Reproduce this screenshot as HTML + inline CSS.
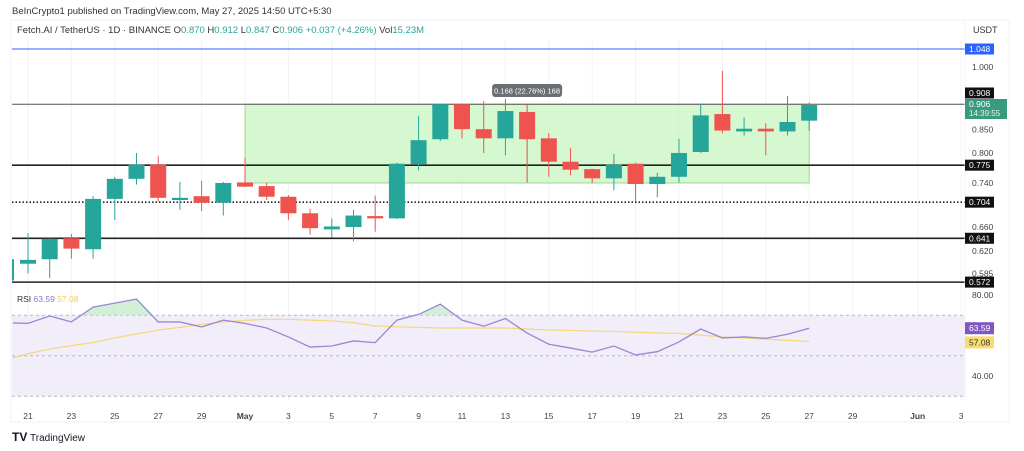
<!DOCTYPE html>
<html><head><meta charset="utf-8"><style>
body{margin:0;background:#fff;font-family:"Liberation Sans",sans-serif;}
svg text{font-family:"Liberation Sans",sans-serif;}
</style></head><body>
<svg id="chart" width="1024" height="446" viewBox="0 0 1024 446" xmlns="http://www.w3.org/2000/svg">
<rect width="1024" height="446" fill="#fff"/>
<text x="12" y="14" font-size="9.5" fill="#333">BeInCrypto1 published on TradingView.com, May 27, 2025 14:50 UTC+5:30</text>
<rect x="11" y="20" width="998" height="402" fill="none" stroke="#eef0f3"/>
<text x="17" y="33" font-size="9.5" fill="#333">Fetch.AI / TetherUS · 1D · BINANCE <tspan>O</tspan><tspan fill="#26a69a">0.870</tspan> H<tspan fill="#26a69a">0.912</tspan> L<tspan fill="#26a69a">0.847</tspan> C<tspan fill="#26a69a">0.906 +0.037 (+4.26%)</tspan> Vol<tspan fill="#26a69a">15.23M</tspan></text>
<text x="973" y="33" font-size="9" fill="#333">USDT</text>
<g id="grid"></g><g id="zones"></g><g id="candles"></g><g id="rsi"></g><g id="axis"></g>
<g><text x="12" y="441" font-size="12" font-weight="bold" fill="#131722">TV</text><text x="30" y="441" font-size="10" fill="#131722">TradingView</text></g>
</svg>
<script>
const days=['Apr20','Apr21','Apr22','Apr23','Apr24','Apr25','Apr26','Apr27','Apr28','Apr29','Apr30','May1','May2','May3','May4','May5','May6','May7','May8','May9','May10','May11','May12','May13','May14','May15','May16','May17','May18','May19','May20','May21','May22','May23','May24','May25','May26','May27'];
const opens=[0.575,0.600,0.607,0.641,0.623,0.710,0.748,0.776,0.708,0.715,0.703,0.741,0.734,0.714,0.684,0.656,0.660,0.679,0.675,0.777,0.829,0.908,0.851,0.831,0.890,0.831,0.782,0.767,0.749,0.778,0.738,0.752,0.802,0.885,0.846,0.852,0.846,0.870];
const highs=[0.607,0.650,0.641,0.648,0.715,0.752,0.800,0.794,0.742,0.744,0.742,0.790,0.741,0.717,0.692,0.675,0.690,0.716,0.780,0.881,0.909,0.909,0.915,0.920,0.908,0.842,0.810,0.768,0.798,0.780,0.760,0.830,0.910,0.990,0.877,0.864,0.928,0.912];
const lows=[0.572,0.585,0.578,0.608,0.608,0.672,0.737,0.705,0.690,0.688,0.680,0.732,0.708,0.672,0.647,0.642,0.636,0.652,0.674,0.765,0.825,0.831,0.800,0.795,0.741,0.752,0.755,0.740,0.726,0.705,0.713,0.741,0.800,0.842,0.837,0.795,0.837,0.847];
const closes=[0.607,0.606,0.640,0.624,0.710,0.748,0.776,0.712,0.712,0.703,0.740,0.733,0.714,0.684,0.658,0.661,0.680,0.675,0.778,0.827,0.908,0.851,0.831,0.892,0.829,0.782,0.766,0.749,0.776,0.738,0.752,0.800,0.882,0.848,0.852,0.846,0.867,0.906];
const rsiVals=[66.2,66,69.6,66.7,74,76,78,66.7,66.7,64.2,67.6,66,63.7,59.3,54.3,54.8,57.3,56.5,67.6,70.4,75.5,67.6,64.6,68.4,61.2,55.7,53.8,51.8,54.8,50.4,52,56.8,63.2,58.8,59.3,58.6,60.6,63.59];
const rsiMa=[49,51,53.3,55,56.5,58.8,60.8,62.7,64,65.5,66.7,67.5,68,68,67.6,67.2,66.3,64.7,64.3,64,63.7,63.7,63.7,63.7,63.2,62.7,62.5,62.2,62,61.6,61.3,61,60.2,59.3,58.8,58.2,57.6,57.08];
const levels=[1.048,0.908,0.775,0.704,0.641,0.572];
const priceTicks=[1.000,0.850,0.800,0.740,0.660,0.620,0.585];
const xLabels=['21','23','25','27','29','May','3','5','7','9','11','13','15','17','19','21','23','25','27','29','Jun','3'];
const xLabelIdx=[1,3,5,7,9,11,13,15,17,19,21,23,25,27,29,31,33,35,37,39,42,44];

const NS='http://www.w3.org/2000/svg';
const X=i=>6.3+21.7*i;
const Y=p=>49+385*(Math.log(1.048)-Math.log(p));
const R=v=>295+(80-v)*2.025;
function mk(parent,tag,attrs){const e=document.createElementNS(NS,tag);for(const k in attrs)e.setAttribute(k,attrs[k]);document.getElementById(parent).appendChild(e);return e;}

xLabelIdx.forEach(i=>{const g=mk('grid','line',{x1:X(i),x2:X(i),y1:40,y2:400,stroke:'#f2f3f5'});

});
const zx1=X(11),zx2=X(37);
const z=mk('zones','rect',{x:zx1,y:Y(0.908),width:zx2-zx1,height:Y(0.740)-Y(0.908),fill:'#c8f5c0',stroke:'#9bd98f','fill-opacity':0.75});


const ar=mk('zones','line',{x1:X(24),x2:X(24),y1:Y(0.740),y2:Y(0.908),stroke:'#7fcf70'});


const tb=mk('zones','rect',{x:X(24)-35,y:84,width:70,height:13,rx:3,fill:'#6b6f75'});


const tt=mk('zones','text',{x:X(24),y:93.5,'font-size':7.5,fill:'#fff','text-anchor':'middle'});tt.textContent='0.168 (22.76%) 168';


levels.forEach((lv,k)=>{const col=lv===1.048?'#2962ff':(lv===0.908?'#555':'#222');
const l=mk('zones','line',{x1:12,x2:965,y1:Y(lv),y2:Y(lv),stroke:col,'stroke-width':lv===0.908||lv===1.048?1:1.6,'stroke-dasharray':lv===0.704?'1.5,2':'none'});

});
days.forEach((d,i)=>{const up=closes[i]>=opens[i];const c=up?'#26a69a':'#ef5350';const x=i===0?13:X(i);
const w=mk('candles','line',{x1:x,x2:x,y1:Y(highs[i]),y2:Y(lows[i]),stroke:c,'stroke-width':1});


const t=Y(Math.max(opens[i],closes[i])),b=Y(Math.min(opens[i],closes[i]));
const r=mk('candles','rect',{x:i===0?x-1:x-8,y:t,width:i===0?2:16,height:Math.max(2,b-t),fill:c});

});
const band=mk('rsi','rect',{x:12,y:R(70),width:953,height:R(30)-R(70),fill:'#ede8f8','fill-opacity':0.8});


[70,50,30].forEach(v=>{const l=mk('rsi','line',{x1:12,x2:965,y1:R(v),y2:R(v),stroke:'#b8b8c0','stroke-dasharray':'3,3'});

});
const defs=mk('rsi','clipPath',{id:'ob'});
const cr=document.createElementNS(NS,'rect');cr.setAttribute('x',0);cr.setAttribute('y',0);cr.setAttribute('width',1024);cr.setAttribute('height',R(70));defs.appendChild(cr);
let pts=rsiVals.map((v,i)=>(i===0?13:X(i))+','+R(v)).join(' ');
const of=mk('rsi','polygon',{points:'13,'+R(70)+' '+pts+' '+X(37)+','+R(70),fill:'#bfe8c8','fill-opacity':0.7,'clip-path':'url(#ob)'});


const ma=mk('rsi','polyline',{points:rsiMa.map((v,i)=>(i===0?13:X(i))+','+R(v)).join(' '),fill:'none',stroke:'#f5d77a','stroke-width':1.2});


const rl=mk('rsi','polyline',{points:pts,fill:'none',stroke:'#9b86d4','stroke-width':1.3});


const rt=mk('rsi','text',{x:17,y:302,'font-size':8.5,fill:'#333'});rt.innerHTML='RSI <tspan fill="#8a74c9">63.59</tspan> <tspan fill="#f0cf5a">57.08</tspan>';


const ax=mk('axis','line',{x1:965,x2:965,y1:20,y2:400,stroke:'#eef0f3'});


priceTicks.forEach(p=>{const t=mk('axis','text',{x:972,y:Y(p)+3,'font-size':8.5,fill:'#444'});t.textContent=p.toFixed(3);

});
[[80,'80.00'],[40,'40.00']].forEach(a=>{const t=mk('axis','text',{x:972,y:R(a[0])+3,'font-size':8.5,fill:'#444'});t.textContent=a[1];

});
function box(y,txt,bg,fg,w,h){const r=mk('axis','rect',{x:965,y:y-h/2,width:w,height:h,fill:bg});


const t=mk('axis','text',{x:969,y:y+3,'font-size':8.5,fill:fg});t.textContent=txt;

return t;}
box(Y(1.048),'1.048','#2962ff','#fff',29,11);
box(93,'0.908','#111','#fff',29,11);
box(Y(0.775),'0.775','#111','#fff',29,11);
box(Y(0.704),'0.704','#111','#fff',29,11);
box(Y(0.641),'0.641','#111','#fff',29,11);
box(Y(0.572),'0.572','#111','#fff',29,11);
const gb=mk('axis','rect',{x:965,y:99,width:42,height:20,fill:'#3a9a7e'});


const g1=mk('axis','text',{x:969,y:107,'font-size':8.5,fill:'#fff'});g1.textContent='0.906';


const g2=mk('axis','text',{x:969,y:116,'font-size':8,fill:'#e0f5ee'});g2.textContent='14:39:55';


box(R(63.59),'63.59','#7e57c2','#fff',29,12);
box(R(57.08)+1,'57.08','#f7dc6f','#333',29,12);
xLabels.forEach((s,k)=>{const t=mk('axis','text',{x:X(xLabelIdx[k]),y:419,'font-size':8.5,fill:'#444','text-anchor':'middle','font-weight':(s==='May'||s==='Jun')?'bold':'normal'});t.textContent=s;

});
</script>
</body></html>
